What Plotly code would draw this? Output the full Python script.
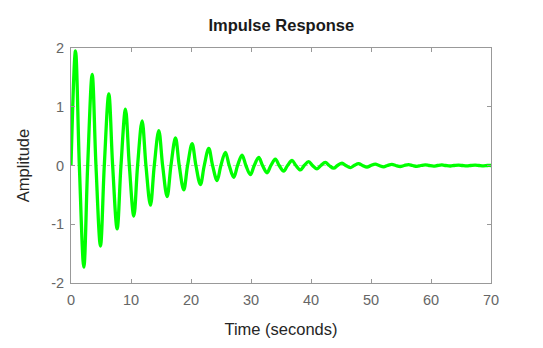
import plotly.graph_objects as go

# Zero crossings of the response (seconds)
zero_t = [0.00, 1.39, 2.78, 4.16, 5.55, 6.94, 8.33, 9.72, 11.10, 12.49,
          13.88, 15.27, 16.66, 18.04, 19.43, 20.82, 22.21, 23.60, 24.98, 26.37,
          27.76, 29.15, 30.54, 31.92, 33.31, 34.70, 36.09, 37.48, 38.86, 40.25,
          41.64, 43.03, 44.42, 45.80, 47.19, 48.58, 49.97, 51.36, 52.74, 54.13,
          55.52, 56.91, 58.30, 59.68, 61.07, 62.46, 63.85, 65.24, 66.62, 68.01,
          69.40, 70.00]
zero_y = [0.0] * len(zero_t)

# Peaks / troughs
peak_t = [0.75, 2.14, 3.53, 4.91, 6.30, 7.69, 9.08, 10.47, 11.85, 13.24,
          14.63, 16.02, 17.41, 18.79, 20.18, 21.57, 22.96, 24.35, 25.73, 27.12,
          28.51, 29.90, 31.29, 32.67, 34.06, 35.45, 36.84, 38.23, 39.61, 41.00,
          42.39, 43.78, 45.17, 46.55, 47.94, 49.33, 50.72, 52.11, 53.49, 54.88,
          56.27, 57.66, 59.05, 60.43, 61.82, 63.21, 64.60, 65.99, 67.37, 68.76]
peak_y = [1.95, -1.73, 1.55, -1.37, 1.22, -1.08, 0.96, -0.86, 0.76, -0.675,
          0.595, -0.53, 0.47, -0.415, 0.37, -0.325, 0.29, -0.255, 0.225, -0.20,
          0.177, -0.157, 0.139, -0.123, 0.109, -0.096, 0.085, -0.075, 0.067, -0.059,
          0.052, -0.046, 0.041, -0.036, 0.032, -0.028, 0.025, -0.022, 0.0195, -0.017,
          0.015, -0.0135, 0.012, -0.0105, 0.0093, -0.0082, 0.0073, -0.0064, 0.0057, -0.005]

x_ticks = [0, 10, 20, 30, 40, 50, 60, 70]
y_ticks = [-2, -1, 0, 1, 2]

pts = sorted(zip(zero_t + peak_t, zero_y + peak_y))
t = [p[0] for p in pts]
y = [p[1] for p in pts]

FONT = "Liberation Sans, Arial, sans-serif"

fig = go.Figure()
fig.add_hline(y=0, line=dict(color="#c8c8c8", width=1, dash="dot"), layer="below")
fig.add_trace(go.Scatter(x=t, y=y, mode="lines",
                         line=dict(color="#00ff00", width=3.3, shape="spline", smoothing=1),
                         hoverinfo="skip"))

axis_common = dict(
    showline=True, linecolor="#999999", linewidth=1, mirror="ticks",
    ticks="inside", ticklen=4, tickcolor="#999999", tickwidth=1,
    showgrid=False, zeroline=False,
    tickfont=dict(family=FONT, size=14.5, color="#666666"),
)

fig.update_layout(
    width=543, height=348,
    margin=dict(l=71, r=52, t=48, b=65),
    paper_bgcolor="white", plot_bgcolor="white",
    showlegend=False,
    title=dict(text="<b>Impulse Response</b>", x=0.518, xanchor="center",
               y=1 - 25 / 348, yanchor="middle",
               font=dict(family=FONT, size=16.5, color="#1a1a1a")),
    xaxis=dict(range=[0, 70], tickvals=x_ticks, ticktext=[str(v) for v in x_ticks],
               ticklabelstandoff=4,
               title=dict(text="Time (seconds)", standoff=16,
                          font=dict(family=FONT, size=16.5, color="#262626")),
               **axis_common),
    yaxis=dict(range=[-2, 2], tickvals=y_ticks, ticktext=[str(v) for v in y_ticks],
               ticklabelstandoff=3,
               title=dict(text="Amplitude", standoff=17,
                          font=dict(family=FONT, size=16.5, color="#262626")),
               **axis_common),
)

fig.write_html("out.html")
